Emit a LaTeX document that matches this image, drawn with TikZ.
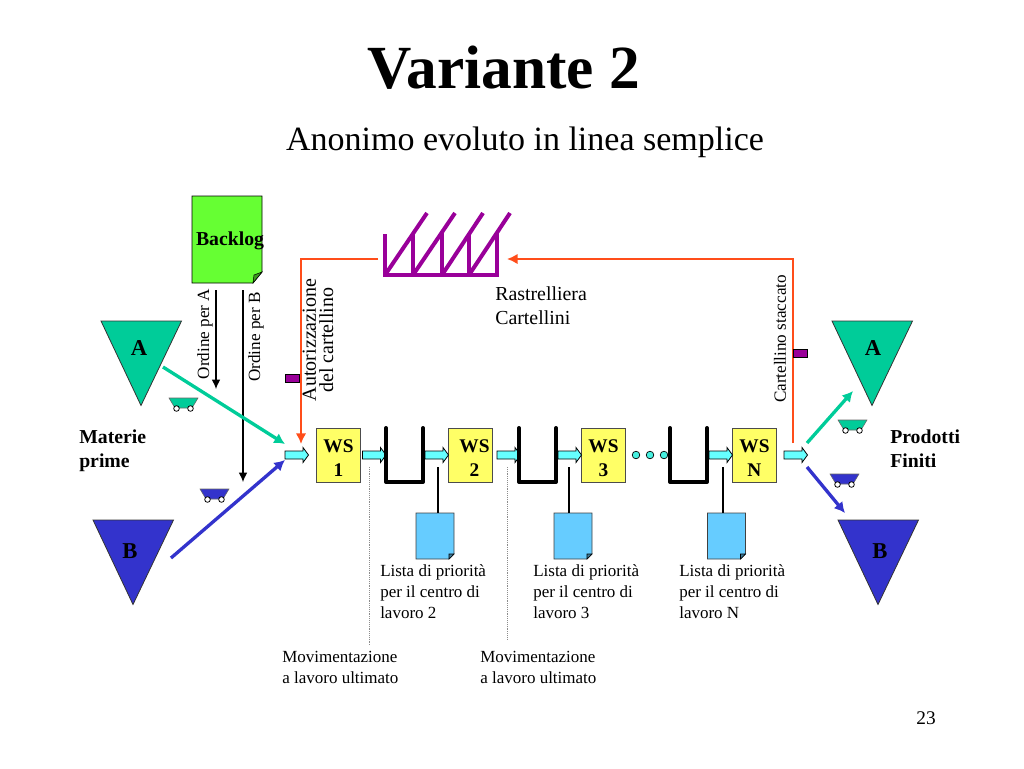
\documentclass[tikz,border=0pt]{standalone}
\usepackage{fontspec}
\setmainfont{Liberation Serif}
\definecolor{stockA}{HTML}{00CC99}
\definecolor{stockB}{HTML}{3333CC}
\definecolor{kanban}{HTML}{990099}
\definecolor{signal}{HTML}{FF4D1A}
\definecolor{station}{HTML}{FFFF66}
\definecolor{flow}{HTML}{66FFFF}
\definecolor{sheet}{HTML}{66CCFF}
\definecolor{backlog}{HTML}{66FF33}
\usetikzlibrary{arrows.meta}

\begin{document}
\begin{tikzpicture}[x=0.75pt,y=-0.75pt,
  label12/.style={font=\fontsize{12.75}{15.8}\selectfont,align=left,anchor=west,inner sep=0pt},
  labelrot/.style={font=\fontsize{12.85}{15.8}\selectfont,rotate=90,inner sep=0pt},
  labelbold/.style={font=\fontsize{14.8}{17.8}\selectfont\bfseries,align=left,anchor=west,inner sep=0pt},
  stocklabel/.style={font=\fontsize{17}{20}\selectfont\bfseries,inner sep=0pt},
  wsbox/.style={draw=black!70,fill=station,line width=0.7pt,minimum width=33pt,minimum height=40.5pt,inner sep=0pt,
    font=\fontsize{14.5}{18}\selectfont\bfseries,align=center,anchor=north west},
  ordine/.style={line width=0.9pt,-{Latex[length=7pt,width=6.5pt]}},
  signalline/.style={signal,line width=1.8pt},
  feed/.style={line width=2.5pt,-{Latex[length=8pt,width=8.5pt]}},
  buffer/.style={line width=3pt,line cap=round,line join=round},
  rack/.style={kanban,line width=3pt}
]
\useasboundingbox (0,0) rectangle (1024,768);

\newcommand{\triang}[6]{%
  \draw[fill=#3,draw=black!80,line width=0.6pt] (#1,#2) -- ++(80.5,0) -- ++(-40.5,84.5) -- cycle;
  \node[stocklabel] (#6) at (#1+#4,#2+#5) {\MakeUppercase{#6}};
}
\newcommand{\cart}[3]{%
  \draw[fill=#3,draw=black!60,line width=0.4pt] (#1,#2) -- ++(29,0) -- ++(-6,10) -- ++(-17,0) -- cycle;
  \draw[fill=white,line width=0.6pt] (#1+7.5,#2+10.5) circle (2.8) (#1+21.5,#2+10.5) circle (2.8);
}
\newcommand{\flowarrow}[1]{%
  \draw[fill=flow,line width=0.6pt] (#1,451) -- ++(18,0) -- ++(0,-3.5) -- ++(5.5,7.5) -- ++(-5.5,7.5) -- ++(0,-3.5) -- ++(-18,0) -- cycle;
}
\newcommand{\priority}[2]{%
  \draw[fill=sheet,draw=black!75,line width=0.6pt] (#1,513) -- ++(38,0) -- ++(0,41) -- ++(-5,5) -- ++(-33,0) -- cycle;
  \draw[fill=sheet!60!black,line width=0.4pt] (#1+38,554) -- ++(-5,0) -- ++(0,5) -- cycle;
}
\newcommand{\wspad}{\rule{0pt}{14.1pt}}

\node[font=\fontsize{46}{50}\selectfont\bfseries,inner sep=0pt] (title) at (504,68) {Variante 2};
\node[font=\fontsize{25.5}{30}\selectfont,inner sep=0pt] (subtitle) at (525,142) {Anonimo evoluto in linea semplice};

% backlog sheet
\draw[fill=backlog,line width=0.6pt] (192,196) -- (262,196) -- (262,272) -- (253,283) -- (192,283) -- cycle;
\draw[fill=backlog!60!black,line width=0.4pt] (262,272) -- (254,275) -- (253,283) -- cycle;
\node[font=\fontsize{14.8}{16}\selectfont\bfseries,inner sep=0pt] (backlogtext) at (230,241) {Backlog};

\node[labelrot] (ordineA) at (205,334) {Ordine per A};
\node[labelrot] (ordineB) at (256,337) {Ordine per B};
\coordinate (ordineAtop) at (216,290);
\coordinate (ordineAend) at (216,389);
\coordinate (ordineBtop) at (243,290);
\coordinate (ordineBend) at (243,482);
\draw[ordine] (ordineAtop) -- (ordineAend);
\draw[ordine] (ordineBtop) -- (ordineBend);

% kanban rack
\draw[rack] (385,234) -- (385,275) -- (497,275) -- (497,233);
\foreach \x/\xa in {385/427,413/455,442/483,469/510} {
  \draw[rack] (\x,275) -- (\xa,213);
}
\foreach \x in {413,442,469} {
  \draw[rack] (\x,233) -- (\x,275);
}
\node[font=\fontsize{14.9}{18}\selectfont,align=left,anchor=west,inner sep=0pt] (rastrelliera) at (495,306) {Rastrelliera\\Cartellini};

% orange loop
\coordinate (rackleft) at (378,259);
\coordinate (rackright) at (507,259);
\coordinate (loopleft) at (301,259);
\coordinate (loopright) at (793,259);
\coordinate (loopin) at (301,444);
\coordinate (loopout) at (793,443);
\draw[signalline,-{Latex[length=8pt,width=8pt]}] (rackleft) -- (loopleft) -- (loopin);
\draw[signalline,-{Latex[length=8pt,width=8pt]}] (loopout) -- (loopright) -- (rackright);
\draw[fill=kanban,line width=0.4pt] (285,374) rectangle (299,382);
\draw[fill=kanban,line width=0.4pt] (793,349) rectangle (807,357);
\node[font=\fontsize{15}{13}\selectfont,align=center,rotate=90,inner sep=0pt] (autorizzazione) at (318,340) {Autorizzazione\\del cartellino};
\node[labelrot] (staccato) at (780,339) {Cartellino staccato};

% stocks
\triang{101}{321}{stockA}{38}{27}{a}
\triang{93}{520}{stockB}{37}{31}{b}
\triang{832}{321}{stockA}{41}{27}{a}
\triang{838}{520}{stockB}{42}{31}{b}
\cart{169}{398}{stockA}
\cart{200}{489}{stockB}
\cart{838}{420}{stockA}
\cart{830}{474}{stockB}

\coordinate (stockAout) at (163,367);
\coordinate (stockBout) at (171,558);
\coordinate (lineinA) at (285,444);
\coordinate (lineinB) at (285,460);
\coordinate (lineoutA) at (807,443);
\coordinate (lineoutB) at (807,467);
\coordinate (finalA) at (853,391);
\coordinate (finalB) at (845,513);
\draw[feed,stockA] (stockAout) -- (lineinA);
\draw[feed,stockB] (stockBout) -- (lineinB);
\draw[feed,stockA] (lineoutA) -- (finalA);
\draw[feed,stockB] (lineoutB) -- (finalB);

\node[labelbold] (materie) at (79,451) {Materie\\prime};
\node[labelbold] (prodotti) at (890,449) {Prodotti\\Finiti};

% work stations
\node[wsbox] (ws1) at (316,428) {\wspad WS\\1};
\node[wsbox] (ws2) at (448,428) {\wspad\hspace*{6pt}WS\\\hspace*{6pt}2};
\node[wsbox] (ws3) at (581,428) {\wspad WS\\3};
\node[wsbox] (wsn) at (732,428) {\wspad WS\\N};

\foreach \x in {285,362.5,425,497,558,709,784} {
  \flowarrow{\x}
}
\foreach \x/\xb in {386/423,519/556,670/707} {
  \draw[buffer] (\x,428) -- (\x,482) -- (\xb,482) -- (\xb,428);
}
\foreach \x in {636,650,664} {
  \draw[fill=flow!70!stockA,line width=0.5pt] (\x,455) circle (3.8);
}

% priority lists
\priority{416}{2}
\priority{554}{3}
\priority{707.5}{N}
\foreach \n/\x in {2/438,3/569,N/723} {
  \coordinate (top\n) at (\x,467);
  \coordinate (doc\n) at (\x,513);
  \draw[line width=0.8pt] (top\n) -- (doc\n);
}
\foreach \n/\x in {2/380,3/533,N/679} {
  \node[label12] (lista\n) at (\x,592) {Lista di priorità\\per il centro di\\lavoro \n};
}

% handling
\coordinate (moveA) at (369,467);
\coordinate (moveAend) at (369,645);
\coordinate (moveB) at (507,467);
\coordinate (moveBend) at (507,640);
\draw[black!45,line width=0.4pt,densely dotted] (moveA) -- (moveAend);
\draw[black!45,line width=0.4pt,densely dotted] (moveB) -- (moveBend);
\node[label12] (movA) at (282,667.5) {Movimentazione\\a lavoro ultimato};
\node[label12] (movB) at (480,667.5) {Movimentazione\\a lavoro ultimato};

\node[font=\fontsize{14.5}{16}\selectfont,inner sep=0pt] (pagenum) at (926,718) {23};
\end{tikzpicture}
\end{document}
